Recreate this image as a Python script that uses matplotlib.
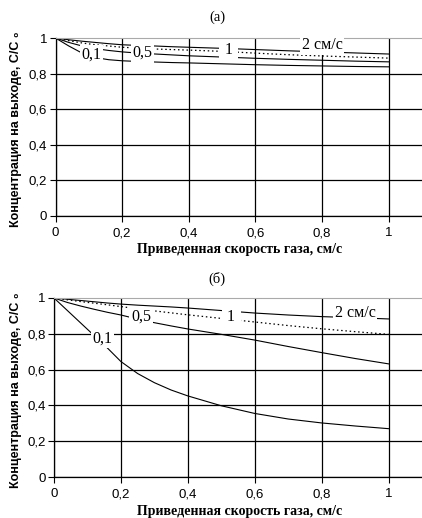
import numpy as np
import matplotlib
matplotlib.use("Agg")
import matplotlib.pyplot as plt

# data
x = [0, 0.04, 0.08, 0.12, 0.16, 0.2, 0.25, 0.3, 0.35, 0.4, 0.5, 0.6, 0.7, 0.8, 0.9, 1.0]

# (а)
a_2 = [1, 0.99, 0.982, 0.975, 0.968, 0.962, 0.958, 0.955, 0.951, 0.948, 0.942, 0.935, 0.928, 0.922, 0.916, 0.91]
a_1 = [1, 0.985, 0.972, 0.962, 0.955, 0.948, 0.943, 0.938, 0.935, 0.932, 0.925, 0.915, 0.906, 0.899, 0.893, 0.887]
a_05 = [1, 0.975, 0.955, 0.94, 0.93, 0.922, 0.915, 0.91, 0.905, 0.9, 0.893, 0.886, 0.88, 0.875, 0.87, 0.866]
a_01 = [1, 0.955, 0.915, 0.89, 0.878, 0.872, 0.868, 0.865, 0.862, 0.86, 0.855, 0.85, 0.846, 0.843, 0.84, 0.838]

# (б)
b_2 = [1, 0.993, 0.986, 0.979, 0.972, 0.966, 0.96, 0.955, 0.95, 0.944, 0.93, 0.916, 0.905, 0.896, 0.89, 0.883]
b_1 = [1, 0.99, 0.98, 0.971, 0.962, 0.952, 0.94, 0.928, 0.917, 0.906, 0.886, 0.866, 0.846, 0.828, 0.812, 0.797]
b_05 = [1, 0.975, 0.955, 0.937, 0.92, 0.905, 0.882, 0.862, 0.844, 0.827, 0.797, 0.765, 0.729, 0.695, 0.662, 0.632]
b_01 = [1, 0.93, 0.86, 0.79, 0.72, 0.645, 0.578, 0.527, 0.486, 0.453, 0.398, 0.355, 0.324, 0.302, 0.285, 0.27]

xticks = [0, 0.2, 0.4, 0.6, 0.8, 1]
xticklabels = ['0', '0,2', '0,4', '0,6', '0,8', '1']
yticks = [0, 0.2, 0.4, 0.6, 0.8, 1]
yticklabels = ['0', '0,2', '0,4', '0,6', '0,8', '1']

curve_names = ['0,1', '0,5', ' 1 ', '2 см/с']
a_label_pos = [(0.107, 0.905), (0.26, 0.915), (0.52, 0.93), (0.8, 0.96)]
b_label_pos = [(0.145, 0.775), (0.26, 0.894), (0.53, 0.892), (0.9, 0.914)]

xlabel = 'Приведенная скорость газа, см/с'
ylabel = 'Концентрация на выходе, C/C ₀'

sans = ['Liberation Sans', 'DejaVu Sans']
serif = ['Liberation Serif', 'DejaVu Serif']

fig = plt.figure(figsize=(4.22, 5.18), dpi=100)
W, H = 422.0, 518.0

def make_axes(left, top, bottom):
    ax = fig.add_axes([left / W, 1 - bottom / H, 1 - left / W, (bottom - top) / H])
    return ax

def style(ax):
    ax.set_xlim(0, 1.1)
    ax.set_ylim(0, 1)
    ax.set_xticks(xticks)
    ax.set_xticklabels(xticklabels, fontfamily=sans, fontsize=9.5)
    ax.set_yticks(yticks)
    ax.set_yticklabels(yticklabels, fontfamily=sans, fontsize=9.5)
    ax.tick_params(direction='out', length=4, width=0.8, color='black')
    ax.tick_params(axis='x', pad=4)
    ax.tick_params(axis='y', pad=2)
    ax.set_axisbelow(True)
    ax.grid(True, color='black', linewidth=0.9)
    ax.get_ygridlines()[-1].set_visible(False)
    ax.spines['top'].set_color('#aaaaaa')
    ax.spines['right'].set_visible(False)
    ax.spines['left'].set_linewidth(0.9)
    ax.spines['bottom'].set_linewidth(0.9)

def draw(ax, c01, c05, c1, c2, positions):
    ax.plot(x, c01, color='black', lw=0.8)
    ax.plot(x, c05, color='black', lw=0.8)
    ax.plot(x, c1, color='black', lw=0.9, linestyle=(0, (1.2, 2.2)))
    ax.plot(x, c2, color='black', lw=0.8)
    for name, (px, py) in zip(curve_names, positions):
        ax.text(px, py, name, fontfamily=serif, fontsize=11.5, ha='center', va='center',
                zorder=5, clip_on=False,
                bbox=dict(boxstyle='square,pad=0.1', fc='white', ec='none'))

ax1 = make_axes(55.5, 38, 216)
style(ax1)
draw(ax1, a_01, a_05, a_1, a_2, a_label_pos)

ax2 = make_axes(54, 298, 477)
style(ax2)
draw(ax2, b_01, b_05, b_1, b_2, b_label_pos)

fig.text(217 / W, 1 - 17 / H, '(а)', fontfamily=serif, fontsize=10.5, ha='center', va='center')
fig.text(217 / W, 1 - 279 / H, '(б)', fontfamily=serif, fontsize=10.5, ha='center', va='center')

fig.text(240 / W, 1 - 250 / H, xlabel, fontfamily=serif, fontweight='bold', fontsize=10,
         ha='center', va='center')
fig.text(240 / W, 1 - 511 / H, xlabel, fontfamily=serif, fontweight='bold', fontsize=10,
         ha='center', va='center')

fig.text(16 / W, 1 - 129.5 / H, ylabel, fontfamily=sans, fontweight='bold', fontsize=9,
         rotation=90, ha='center', va='center')
fig.text(16 / W, 1 - 390 / H, ylabel, fontfamily=sans, fontweight='bold', fontsize=9,
         rotation=90, ha='center', va='center')

fig.savefig('out.png', dpi=100)
